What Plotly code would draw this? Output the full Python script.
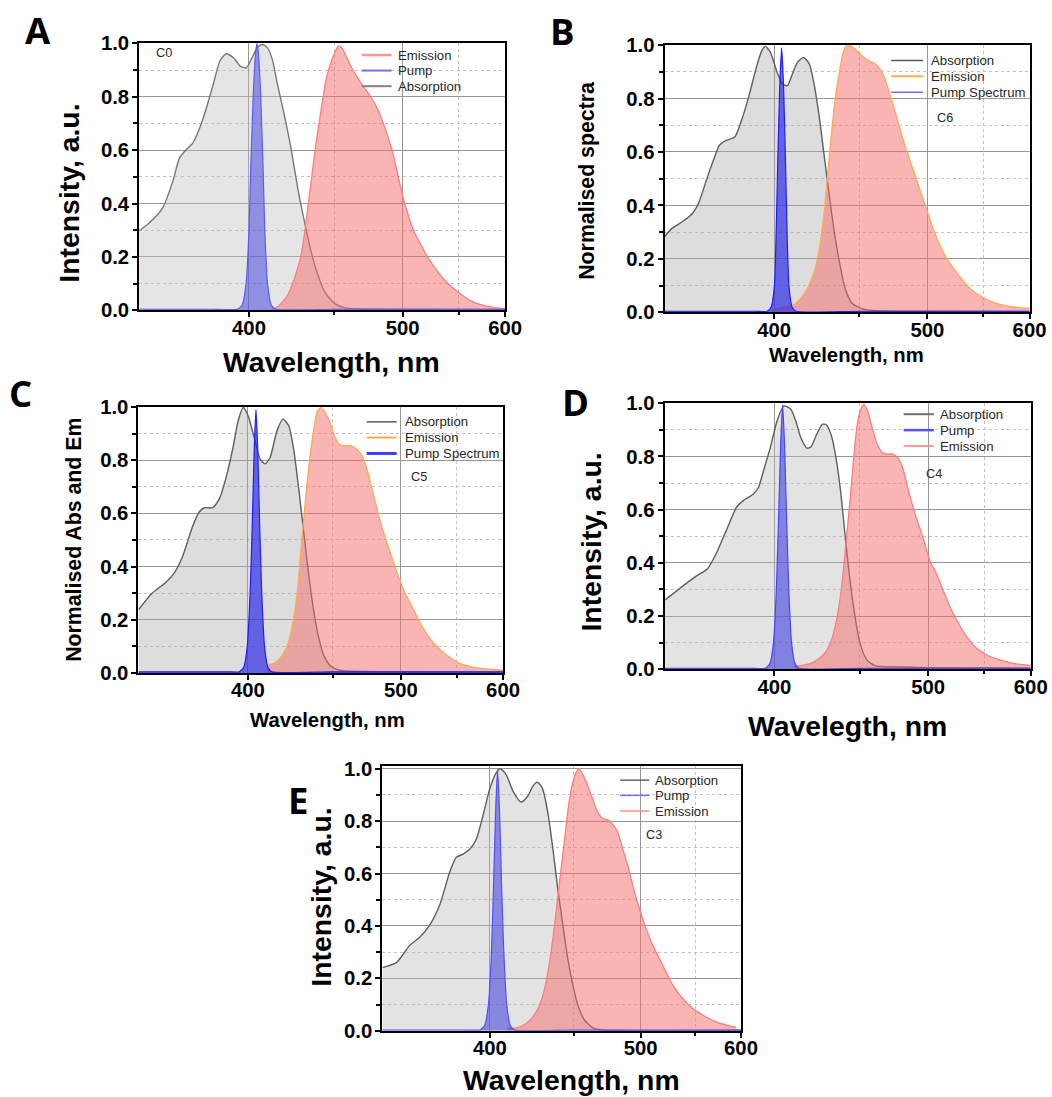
import plotly.graph_objects as go

# Target picture size, and the measured mapping page -> picture of the photographing step
W, H = 1052, 1097
PIC_SX, PIC_SY, PIC_OY = 0.985, 0.984, 8.5
FW, FH = round(W / PIC_SX), round((H - PIC_OY) / PIC_SY) + 1

X_TICKS = [400, 500, 600]
X_MINOR = [450, 550]
Y_TICKS = [0.0, 0.2, 0.4, 0.6, 0.8, 1.0]
WL_MIN, WL_MAX = 350, 600

# ---------------- Panel A (C0) ----------------
A_abs_wl = [350.0, 353.9, 359.5, 363.9, 366.8, 369.8, 372.8, 375.9, 379.0, 382.2, 385.4, 388.4, 392.1, 395.5, 398.6,
            401.6, 404.3, 407.0, 409.8, 412.5, 415.4, 419.2, 423.1, 427.1, 431.1, 435.2, 439.4, 443.7, 450.3, 457.1,
            480, 520, 560, 600]
A_abs_y = [0.298, 0.326, 0.382, 0.482, 0.570, 0.602, 0.627, 0.683, 0.758, 0.846, 0.934, 0.961, 0.946, 0.915, 0.908,
           0.946, 0.984, 0.996, 0.984, 0.940, 0.846, 0.733, 0.608, 0.457, 0.332, 0.219, 0.132, 0.069, 0.025, 0.009,
           0.005, 0.004, 0.003, 0.003]
A_em_wl = [412.0, 415.4, 421.1, 425.1, 429.1, 432.1, 435.2, 438.4, 441.6, 444.8, 448.1, 452.5, 454.9, 458.2, 462.9,
           468.9, 475.0, 480.0, 485.1, 491.7, 499.8, 508.2, 516.8, 525.8, 538.2, 551.3, 565.0, 583.1, 598.4, 600]
A_em_y = [0.003, 0.0125, 0.056, 0.119, 0.207, 0.332, 0.483, 0.633, 0.758, 0.871, 0.934, 0.990, 0.984, 0.946, 0.896,
          0.846, 0.802, 0.758, 0.695, 0.595, 0.432, 0.307, 0.232, 0.169, 0.106, 0.063, 0.031, 0.0125, 0.006, 0.005]
A_pump_wl = [350, 380, 394.0, 396.5, 398.5, 400.0, 401.0, 402.2, 403.4, 404.2, 405.0, 406.2, 407.4, 408.4, 409.9,
             411.9, 414.5, 450, 500, 550, 600]
A_pump_y = [0.004, 0.004, 0.004, 0.020, 0.100, 0.300, 0.550, 0.800, 0.960, 1.000, 0.960, 0.800, 0.550, 0.300, 0.100,
            0.020, 0.004, 0.004, 0.004, 0.004, 0.004]

# ---------------- Panel B (C6) ----------------
B_abs_wl = [350.0, 353.0, 357.2, 361.5, 364.4, 367.3, 370.4, 373.4, 376.5, 380.5, 384.5, 387.8, 391.2, 393.7, 395.5,
            398.1, 401.6, 404.3, 407.0, 409.8, 412.6, 416.0, 419.3, 422.2, 425.2, 428.2, 431.3, 434.4, 437.6, 440.8,
            445.1, 451.8, 461.0, 500, 600]
B_abs_y = [0.283, 0.314, 0.339, 0.370, 0.414, 0.488, 0.563, 0.625, 0.643, 0.656, 0.737, 0.824, 0.923, 0.979, 0.995,
           0.973, 0.898, 0.855, 0.848, 0.892, 0.935, 0.954, 0.929, 0.848, 0.724, 0.575, 0.426, 0.289, 0.178, 0.091,
           0.035, 0.014, 0.006, 0.004, 0.003]
B_em_wl = [398.9, 405.2, 410.7, 414.5, 418.3, 422.2, 425.2, 428.2, 431.3, 434.4, 437.6, 439.7, 441.8, 445.1, 448.4,
           451.8, 456.3, 461.0, 465.7, 469.3, 473.0, 478.0, 483.1, 488.4, 493.7, 499.1, 504.7, 510.4, 516.2, 522.2,
           531.4, 540.9, 554.2, 568.1, 582.8, 598.2, 600]
B_em_y = [0.010, 0.019, 0.029, 0.053, 0.091, 0.153, 0.240, 0.389, 0.600, 0.786, 0.911, 0.973, 0.998, 0.995, 0.979,
          0.960, 0.942, 0.929, 0.898, 0.848, 0.786, 0.699, 0.612, 0.538, 0.463, 0.389, 0.314, 0.252, 0.202, 0.165,
          0.116, 0.078, 0.047, 0.029, 0.019, 0.016, 0.015]
B_pump_wl = [350, 390, 396.5, 398.5, 400.2, 401.1, 401.9, 403.0, 404.0, 405.0, 406.1, 406.9, 407.9, 409.6, 411.7,
             450, 600]
B_pump_y = [0.004, 0.004, 0.004, 0.020, 0.100, 0.300, 0.550, 0.850, 0.990, 0.850, 0.550, 0.300, 0.100, 0.020, 0.004,
            0.004, 0.004]

# ---------------- Panel C (C5) ----------------
C_abs_wl = [350.0, 355.5, 361.1, 364.8, 368.5, 373.0, 376.1, 378.5, 382.5, 385.7, 389.0, 392.4, 395.0, 397.6, 400.2,
            403.8, 406.5, 409.2, 412.0, 415.8, 419.3, 422.6, 425.6, 428.6, 431.6, 434.7, 437.9, 441.1, 444.3, 448.7,
            455.5, 500, 600]
C_abs_y = [0.237, 0.299, 0.339, 0.374, 0.436, 0.549, 0.605, 0.621, 0.621, 0.655, 0.736, 0.848, 0.948, 0.998, 0.966,
           0.873, 0.804, 0.786, 0.810, 0.910, 0.954, 0.929, 0.835, 0.686, 0.524, 0.362, 0.224, 0.125, 0.062, 0.025,
           0.009, 0.004, 0.003]
C_em_wl = [410.2, 413.9, 417.7, 421.6, 424.6, 427.6, 429.6, 431.6, 433.7, 435.8, 437.9, 440.0, 442.2, 444.3, 447.6,
           451.0, 454.3, 457.8, 462.5, 466.0, 469.6, 473.3, 477.1, 482.1, 487.3, 492.6, 498.0, 503.5, 509.2, 517.9,
           527.0, 539.5, 552.6, 566.5, 581.0, 600.0]
C_em_y = [0.031, 0.035, 0.056, 0.100, 0.175, 0.299, 0.449, 0.586, 0.723, 0.835, 0.923, 0.985, 0.998, 0.985, 0.948,
          0.892, 0.860, 0.854, 0.854, 0.842, 0.823, 0.773, 0.698, 0.599, 0.511, 0.436, 0.362, 0.299, 0.249, 0.175,
          0.118, 0.069, 0.037, 0.022, 0.015, 0.010]
C_pump_wl = [350, 390, 395.5, 397.8, 399.7, 401.2, 402.3, 403.4, 404.3, 405.2, 406.3, 407.4, 408.9, 410.8, 413.0,
             450, 600]
C_pump_y = [0.004, 0.004, 0.004, 0.020, 0.100, 0.300, 0.550, 0.850, 0.990, 0.850, 0.550, 0.300, 0.100, 0.020, 0.004,
            0.004, 0.004]

# ---------------- Panel D (C4) ----------------
D_abs_wl = [350.0, 358.6, 362.9, 368.0, 371.8, 376.4, 381.2, 384.4, 389.4, 391.9, 394.4, 397.9, 401.4, 405.0, 408.6,
            411.4, 414.2, 417.7, 420.0, 422.9, 426.5, 428.9, 432.0, 435.1, 438.3, 440.8, 443.6, 446.9, 450.2, 454.7,
            460.5, 472.5, 500, 600]
D_abs_y = [0.259, 0.321, 0.349, 0.378, 0.434, 0.521, 0.609, 0.634, 0.659, 0.684, 0.746, 0.834, 0.934, 0.990, 0.978,
           0.934, 0.871, 0.831, 0.836, 0.878, 0.921, 0.919, 0.878, 0.784, 0.634, 0.484, 0.334, 0.196, 0.096, 0.034,
           0.0125, 0.009, 0.006, 0.004]
D_em_wl = [410.5, 416.1, 421.9, 427.9, 432.0, 435.1, 438.3, 440.8, 443.6, 445.8, 448.0, 450.2, 452.5, 454.7, 458.2,
           461.7, 465.2, 468.8, 472.5, 476.2, 480.0, 485.1, 490.4, 495.7, 501.2, 506.8, 512.5, 518.4, 524.4, 533.6,
           543.2, 553.1, 567.0, 581.5, 596.8, 600]
D_em_y = [0.011, 0.015, 0.0275, 0.059, 0.109, 0.184, 0.309, 0.459, 0.634, 0.784, 0.909, 0.971, 0.996, 0.978, 0.909,
          0.846, 0.815, 0.809, 0.809, 0.796, 0.759, 0.659, 0.571, 0.496, 0.409, 0.359, 0.296, 0.234, 0.184, 0.121,
          0.0775, 0.0525, 0.034, 0.021, 0.015, 0.014]
D_pump_wl = [350, 390, 395.3, 397.6, 399.5, 401.0, 402.1, 403.3, 404.3, 405.3, 406.5, 407.6, 409.1, 411.0, 413.3,
             450, 600]
D_pump_y = [0.003, 0.003, 0.003, 0.020, 0.100, 0.300, 0.550, 0.850, 0.994, 0.850, 0.550, 0.300, 0.100, 0.020, 0.003,
            0.003, 0.003]

# ---------------- Panel E (C3) ----------------
E_abs_wl = [350.0, 355.8, 361.5, 365.9, 370.3, 374.9, 379.7, 382.9, 386.2, 389.5, 392.9, 396.3, 399.8, 403.4, 405.5,
            408.8, 412.6, 417.3, 421.2, 424.2, 426.8, 429.8, 433.3, 436.5, 439.6, 442.9, 446.1, 449.5, 452.8, 457.4,
            463.3, 470.5, 600]
E_abs_y = [0.241, 0.260, 0.326, 0.357, 0.402, 0.478, 0.605, 0.662, 0.674, 0.693, 0.731, 0.820, 0.921, 0.985, 1.0,
           0.978, 0.915, 0.873, 0.896, 0.934, 0.949, 0.928, 0.833, 0.693, 0.541, 0.402, 0.275, 0.174, 0.098, 0.041,
           0.011, 0.003, 0.002]
E_em_wl = [409.2, 414.5, 420.2, 424.2, 428.2, 431.3, 434.4, 437.5, 440.7, 444.0, 447.2, 450.6, 453.5, 456.3, 459.7,
           463.3, 466.9, 470.5, 474.2, 478.0, 481.8, 485.7, 489.6, 493.6, 499.1, 504.6, 510.3, 516.1, 522.1, 528.2,
           537.6, 547.4, 557.5, 571.6, 586.4, 594.1]
E_em_y = [0.009, 0.011, 0.028, 0.053, 0.098, 0.161, 0.262, 0.402, 0.567, 0.731, 0.883, 0.972, 1.0, 0.978, 0.934,
          0.883, 0.833, 0.810, 0.805, 0.788, 0.757, 0.693, 0.630, 0.554, 0.465, 0.389, 0.326, 0.275, 0.224, 0.174,
          0.123, 0.085, 0.060, 0.034, 0.019, 0.014]
E_pump_wl = [350, 390, 394.8, 397.2, 399.2, 400.8, 401.9, 403.1, 404.1, 405.1, 406.3, 407.5, 409.1, 411.1, 413.5,
             450, 600]
E_pump_y = [0.003, 0.003, 0.003, 0.020, 0.100, 0.300, 0.550, 0.850, 0.997, 0.850, 0.550, 0.300, 0.100, 0.020, 0.003,
            0.003, 0.003]

FONT = "Liberation Sans, Arial, sans-serif"
LETTER_FONT = "Open Sans, sans-serif"

PINK_FILL = "rgba(245,105,105,0.50)"
RED_LINE = "rgb(255,125,125)"
ORANGE_LINE = "rgb(255,170,80)"
GRAY_LINE = "rgb(95,95,95)"

panels = [
    dict(key="A", frame=(139.3, 505.7, 41.0, 309.0), ymax=1.0,
         series=[("abs", A_abs_wl, A_abs_y), ("em", A_em_wl, A_em_y), ("pump", A_pump_wl, A_pump_y)],
         legend=[("Emission", "rgb(255,150,150)", 2.5), ("Pump", "rgb(110,110,255)", 2),
                 ("Absorption", "rgb(130,130,130)", 2)],
         abs_line="rgb(120,120,120)", abs_fill="rgba(190,190,190,0.40)", em_line=RED_LINE,
         pump_fill="rgba(60,60,225,0.50)", pump_line="rgb(90,90,255)",
         leg=(362, 392, 396, [52.7, 68.3, 84.0]), note="C0", note_pos=(154, 50.7),
         ytitle="Intensity, a.u.", ytitle_pos=(69, 191), ytitle_size=28,
         xtitle="Wavelength, nm", xtitle_pos=(332, 361), xtitle_size=28,
         letter_pos=(38, 28)),
    dict(key="B", frame=(665.2, 1030.5, 42.7, 311.0), ymax=1.0,
         series=[("abs", B_abs_wl, B_abs_y), ("em", B_em_wl, B_em_y), ("pump", B_pump_wl, B_pump_y)],
         legend=[("Absorption", "rgb(90,90,90)", 1.5), ("Emission", ORANGE_LINE, 2),
                 ("Pump Spectrum", "rgb(110,110,255)", 1.5)],
         abs_line=GRAY_LINE, abs_fill="rgba(170,170,170,0.40)", em_line=ORANGE_LINE,
         pump_fill="rgba(40,40,230,0.68)", pump_line="rgb(30,30,255)",
         leg=(892, 924, 930, [58.3, 74.0, 90.0]), note="C6", note_pos=(936, 115.7),
         ytitle="Normalised spectra", ytitle_pos=(588, 178.5), ytitle_size=21,
         xtitle="Wavelength, nm", xtitle_pos=(847, 354), xtitle_size=20,
         letter_pos=(563, 29)),
    dict(key="C", frame=(138.6, 503.5, 406.0, 673.0), ymax=1.0,
         series=[("abs", C_abs_wl, C_abs_y), ("em", C_em_wl, C_em_y), ("pump", C_pump_wl, C_pump_y)],
         legend=[("Absorption", "rgb(90,90,90)", 1.5), ("Emission", ORANGE_LINE, 2),
                 ("Pump Spectrum", "rgb(60,60,255)", 3)],
         abs_line=GRAY_LINE, abs_fill="rgba(170,170,170,0.40)", em_line=ORANGE_LINE,
         pump_fill="rgba(40,40,230,0.68)", pump_line="rgb(30,30,255)",
         leg=(367, 397, 403, [421.0, 436.7, 452.7]), note="C5", note_pos=(409, 476),
         ytitle="Normalised Abs and Em", ytitle_pos=(74.5, 539), ytitle_size=21,
         xtitle="Wavelength, nm", xtitle_pos=(327.5, 720), xtitle_size=20,
         letter_pos=(20.5, 392.5)),
    dict(key="D", frame=(665.2, 1031.7, 402.3, 669.3), ymax=1.0,
         series=[("abs", D_abs_wl, D_abs_y), ("em", D_em_wl, D_em_y), ("pump", D_pump_wl, D_pump_y)],
         legend=[("Absorption", "rgb(110,110,110)", 2), ("Pump", "rgb(80,80,255)", 2.5),
                 ("Emission", "rgb(255,150,150)", 2)],
         abs_line=GRAY_LINE, abs_fill="rgba(185,185,185,0.40)", em_line=RED_LINE,
         pump_fill="rgba(50,50,225,0.55)", pump_line="rgb(70,70,255)",
         leg=(904.5, 934.7, 939, [413.3, 429.3, 445.3]), note="C4", note_pos=(925, 473.3),
         ytitle="Intensity, a.u.", ytitle_pos=(592, 541.7), ytitle_size=28,
         xtitle="Wavelegth, nm", xtitle_pos=(848, 726), xtitle_size=28,
         letter_pos=(576, 401)),
    dict(key="E", frame=(382.7, 741.7, 766.0, 1032.3), ymax=1.0125,
         series=[("abs", E_abs_wl, E_abs_y), ("em", E_em_wl, E_em_y), ("pump", E_pump_wl, E_pump_y)],
         legend=[("Absorption", "rgb(100,100,100)", 1.5), ("Pump", "rgb(110,110,255)", 1.5),
                 ("Emission", "rgb(255,140,140)", 1.5)],
         abs_line=GRAY_LINE, abs_fill="rgba(185,185,185,0.40)", em_line=RED_LINE,
         pump_fill="rgba(50,50,220,0.52)", pump_line="rgb(80,80,255)",
         leg=(620.7, 650.0, 654, [780.7, 796.0, 811.7]), note="C3", note_pos=(645, 836),
         ytitle="Intensity, a.u.", ytitle_pos=(321, 898), ytitle_size=28,
         xtitle="Wavelength, nm", xtitle_pos=(572.5, 1081.7), xtitle_size=28,
         letter_pos=(298, 801)),
]


def tx(wl):
    # reciprocal wavelength scale (Origin-style 1/x axis): plot against -1000/lambda
    return [-1000.0 / w for w in wl]


def px(x):
    return (x / PIC_SX) / FW


def py(y):
    return 1 - ((y - PIC_OY) / PIC_SY) / FH


def fs(s):
    return round(s / PIC_SX, 1)


fig = go.Figure()
annotations = []
shapes = []
layout = {}

for i, p in enumerate(panels, start=1):
    sfx = "" if i == 1 else str(i)
    xa, ya = "x" + sfx, "y" + sfx
    L, R, T, B = p["frame"]
    for kind, wl, yv in p["series"]:
        if kind == "abs":
            fig.add_trace(go.Scatter(x=tx(wl), y=yv, xaxis=xa, yaxis=ya, mode="lines", fill="tozeroy",
                                     fillcolor=p["abs_fill"], line=dict(color=p["abs_line"], width=1.4,
                                                                        shape="spline", smoothing=0.6),
                                     name="Absorption", showlegend=False))
        elif kind == "em":
            fig.add_trace(go.Scatter(x=tx(wl), y=yv, xaxis=xa, yaxis=ya, mode="lines", fill="tozeroy",
                                     fillcolor=PINK_FILL, line=dict(color=p["em_line"], width=1.3, shape="spline",
                                                                    smoothing=0.6),
                                     name="Emission", showlegend=False))
        else:
            fig.add_trace(go.Scatter(x=tx(wl), y=yv, xaxis=xa, yaxis=ya, mode="lines", fill="tozeroy",
                                     fillcolor=p["pump_fill"], line=dict(color=p["pump_line"], width=1.2,
                                                                         shape="spline", smoothing=0.5),
                                     name="Pump", showlegend=False))

    layout["xaxis" + sfx] = dict(
        domain=[px(L), px(R)], anchor=ya, range=[-1000.0 / WL_MIN, -1000.0 / WL_MAX],
        tickmode="array", tickvals=[-1000.0 / v for v in X_TICKS], ticktext=[str(v) for v in X_TICKS],
        ticks="outside", ticklen=5, tickwidth=1.5, tickcolor="black", ticklabelstandoff=-7,
        tickfont=dict(family=FONT, size=fs(20), color="black", weight="bold"),
        showline=True, linecolor="black", linewidth=2, mirror=True,
        showgrid=True, gridcolor="rgb(150,150,150)", gridwidth=1, zeroline=False,
        minor=dict(tickmode="array", tickvals=[-1000.0 / v for v in X_MINOR], ticks="outside", ticklen=3,
                   tickcolor="black", showgrid=True, gridcolor="rgb(195,195,195)", griddash="dot", gridwidth=1),
    )
    layout["yaxis" + sfx] = dict(
        domain=[py(B), py(T)], anchor=xa, range=[0, p["ymax"]],
        tickmode="array", tickvals=Y_TICKS, ticktext=["%.1f" % v for v in Y_TICKS],
        ticks="outside", ticklen=5, tickwidth=1.5, tickcolor="black", ticklabelstandoff=-1,
        tickfont=dict(family=FONT, size=fs(20), color="black", weight="bold"),
        showline=True, linecolor="black", linewidth=2, mirror=True,
        showgrid=True, gridcolor="rgb(150,150,150)", gridwidth=1, zeroline=False,
        minor=dict(dtick=0.1, tick0=0, ticks="outside", ticklen=4, tickcolor="black",
                   showgrid=True, gridcolor="rgb(195,195,195)", griddash="dot", gridwidth=1),
    )

    # legend drawn inside the frame, Origin style (short line + label)
    s0, s1, tx0, rows = p["leg"]
    for (name, col, lw), ry in zip(p["legend"], rows):
        shapes.append(dict(type="line", xref="paper", yref="paper", x0=px(s0), x1=px(s1), y0=py(ry), y1=py(ry),
                           line=dict(color=col, width=lw)))
        annotations.append(dict(text=name, x=px(tx0), y=py(ry), xref="paper", yref="paper", xanchor="left",
                                yanchor="middle", showarrow=False,
                                font=dict(family=FONT, size=fs(13), color="rgb(40,40,40)")))

    nx, ny = p["note_pos"]
    annotations.append(dict(text=p["note"], x=px(nx), y=py(ny), xref="paper", yref="paper", xanchor="left",
                            yanchor="middle", showarrow=False,
                            font=dict(family=FONT, size=fs(12.5), color="rgb(40,40,40)")))
    yx, yy = p["ytitle_pos"]
    annotations.append(dict(text=p["ytitle"], x=px(yx), y=py(yy), xref="paper", yref="paper", xanchor="center",
                            yanchor="middle", textangle=-90, showarrow=False,
                            font=dict(family=FONT, size=fs(p["ytitle_size"]), color="black", weight="bold")))
    xx, xy = p["xtitle_pos"]
    annotations.append(dict(text=p["xtitle"], x=px(xx), y=py(xy), xref="paper", yref="paper", xanchor="center",
                            yanchor="middle", showarrow=False,
                            font=dict(family=FONT, size=fs(p["xtitle_size"]), color="black", weight="bold")))
    ltx, lty = p["letter_pos"]
    annotations.append(dict(text=p["key"], x=px(ltx), y=py(lty), xref="paper", yref="paper", xanchor="center",
                            yanchor="middle", showarrow=False,
                            font=dict(family=LETTER_FONT, size=fs(36), color="black", weight="bold")))

fig.update_layout(width=FW, height=FH, margin=dict(l=0, r=0, t=0, b=0), paper_bgcolor="white",
                  plot_bgcolor="white", showlegend=False, annotations=annotations, shapes=shapes, **layout)

# pin the figure to the top-left corner of the page (no body margin, no scrollbars)
PIN_JS = ("var gd=document.getElementById('{plot_id}');"
          "document.documentElement.style.overflow='hidden';"
          "document.body.style.margin='0';document.body.style.overflow='hidden';"
          "gd.style.position='fixed';gd.style.left='0px';gd.style.top='0px';")

fig.write_html("out.html", config={"displayModeBar": False}, post_script=PIN_JS)
